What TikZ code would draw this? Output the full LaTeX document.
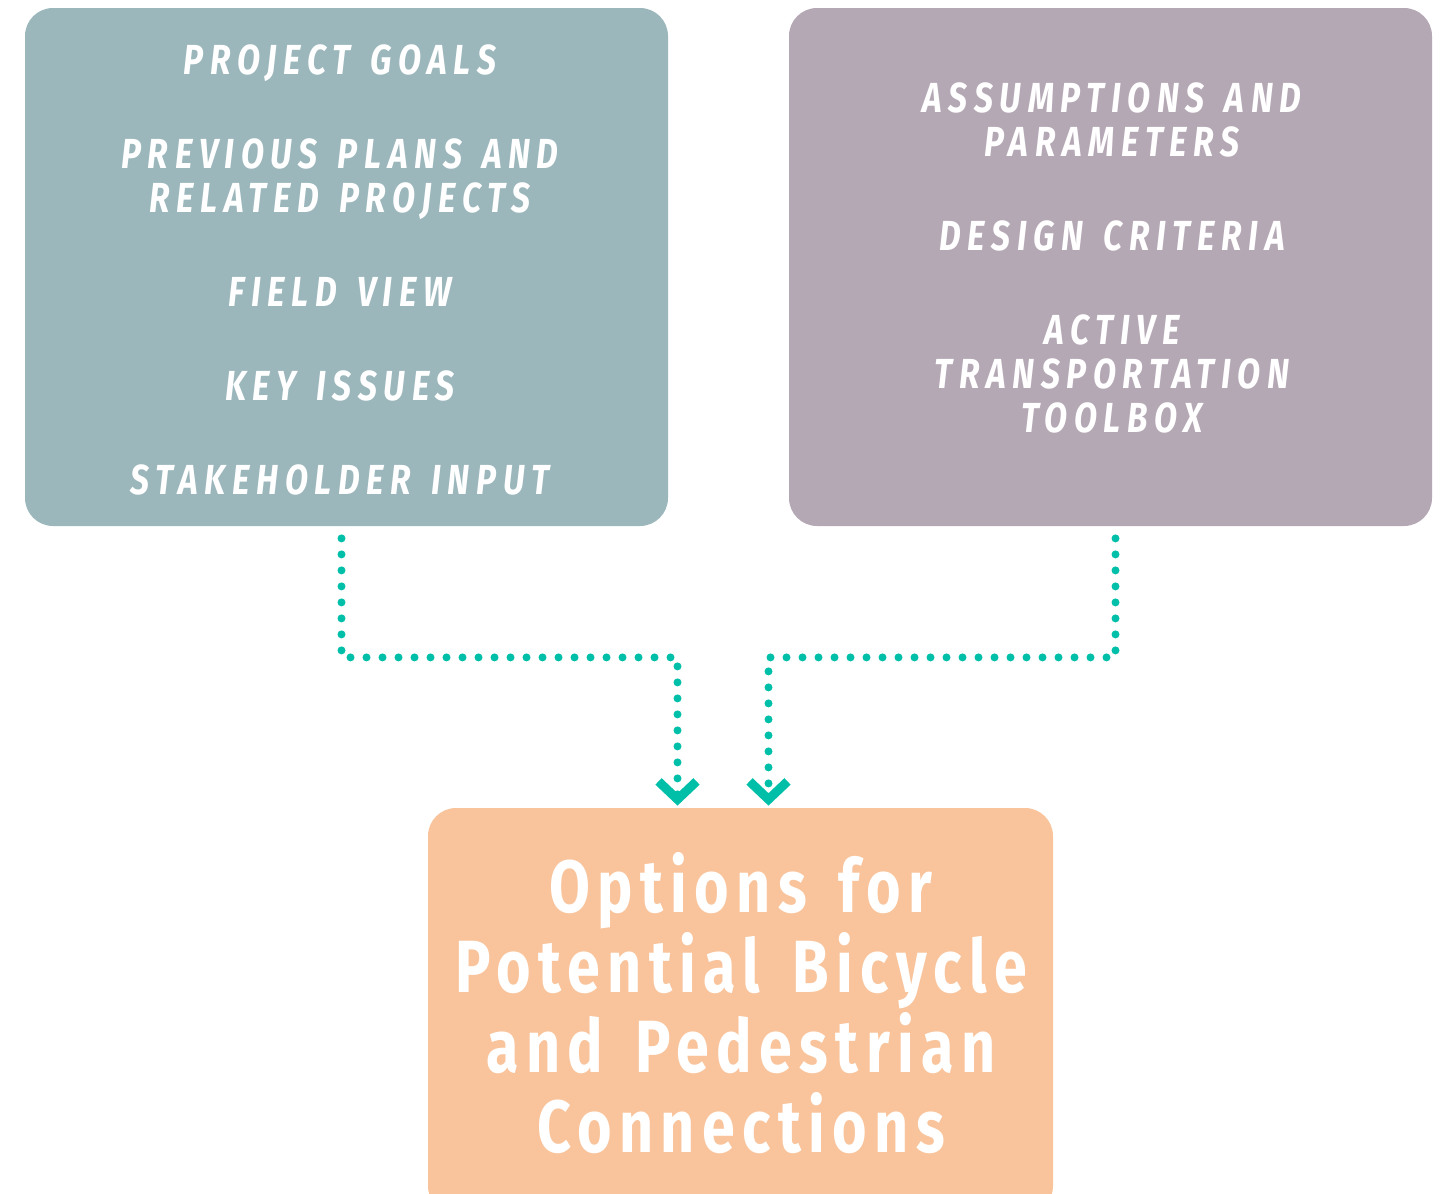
\documentclass[tikz,border=0pt]{standalone}
\usepackage{fontspec}
\usetikzlibrary{arrows.meta, positioning}
\newfontfamily\itemfont[FakeStretch=0.80, LetterSpace=16, WordSpace=1.4]{Fira Sans}
\newfontfamily\resultfont[FakeStretch=0.80, LetterSpace=10, WordSpace=1.5]{Fira Sans}
\definecolor{inputgray}{HTML}{9BB7BC}
\definecolor{paramgray}{HTML}{B5A8B5}
\definecolor{resultpeach}{HTML}{F9C49B}
\definecolor{flowteal}{HTML}{00BFA8}
\tikzset{
  box/.style={rectangle, rounded corners=14pt, inner sep=0pt, text=white, align=center},
  itemtext/.style={text=white, align=center, font=\itemfont\bfseries\itshape\fontsize{21}{22}\selectfont},
  flow/.style={flowteal, line width=4pt, line cap=round, dash pattern=on 0pt off 8pt,
    -{Straight Barb[length=9pt, width=19pt, line width=4.5pt, line cap=butt]}}
}

\begin{document}
\begin{tikzpicture}[x=0.5pt, y=-0.5pt]
\useasboundingbox (0,0) rectangle (1447,1194);
\clip (0,0) rectangle (1447,1194);

% Inputs (left box)
\node[box, fill=inputgray, minimum width=321.5pt, minimum height=259pt] (inputs) at (346.5,267) {};
\node[itemtext] (inputtext) at (340,270)
  {PROJECT GOALS\\[25pt]
   PREVIOUS PLANS AND\\ RELATED PROJECTS\\[25pt]
   FIELD VIEW\\[25pt]
   KEY ISSUES\\[25pt]
   STAKEHOLDER INPUT};

% Parameters (right box)
\node[box, fill=paramgray, minimum width=321.5pt, minimum height=259pt] (params) at (1110.5,267) {};
\node[itemtext] (paramtext) at (1112,258)
  {ASSUMPTIONS AND\\ PARAMETERS\\[25pt]
   DESIGN CRITERIA\\[25pt]
   ACTIVE\\ TRANSPORTATION\\ TOOLBOX};

% Result (bottom box, runs past the lower edge)
\node[box, fill=resultpeach, minimum width=312.5pt, minimum height=203pt] (options) at (740.5,1011) {};
\node[text=white, align=center, font=\resultfont\bfseries\fontsize{37}{40}\selectfont] (optiontext) at (741,1003)
  {Options for\\ Potential Bicycle\\ and Pedestrian\\ Connections};

% Dotted connectors
\coordinate (leftin) at ([xshift=-31.5pt]options.north);
\coordinate (rightin) at ([xshift=14pt]options.north);
\draw[flow] ([xshift=-2.5pt, yshift=-6pt]inputs.south) -- ++(0,119) -| ([yshift=1pt]leftin);
\draw[flow] ([xshift=2.5pt, yshift=-6pt]params.south) -- ++(0,119) -| ([yshift=1pt]rightin);

\end{tikzpicture}
\end{document}
